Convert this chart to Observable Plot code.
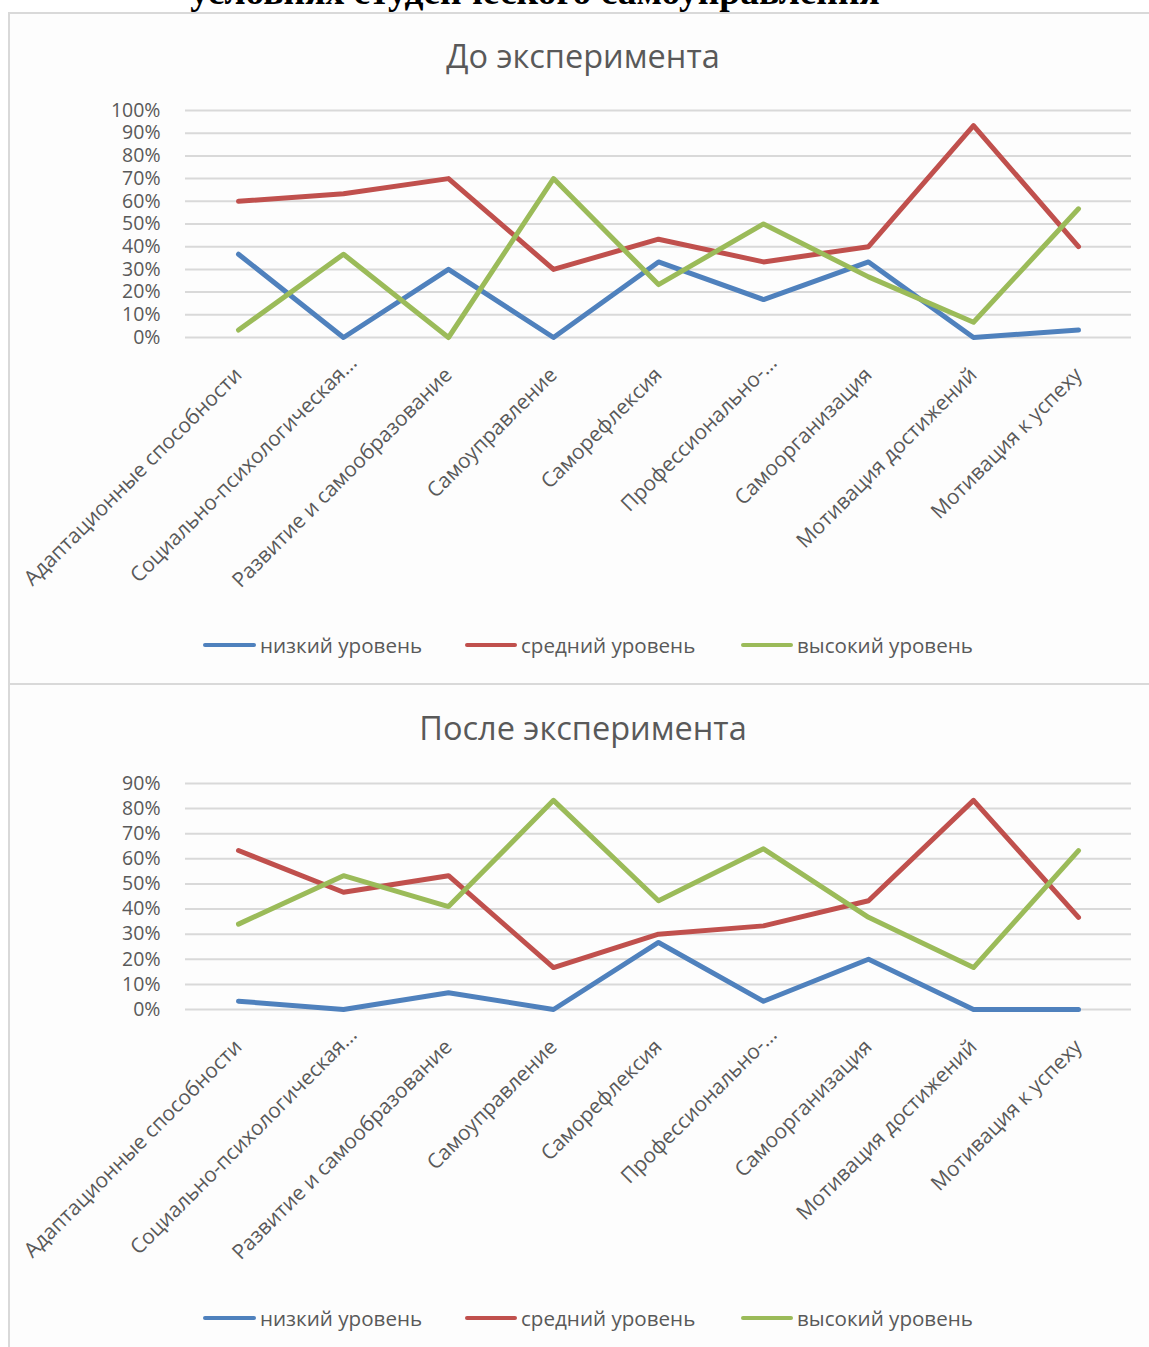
<!DOCTYPE html>
<html><head><meta charset="utf-8">
<script src="https://cdn.jsdelivr.net/npm/d3@7"></script>
<script src="https://cdn.jsdelivr.net/npm/@observablehq/plot@0.6"></script>
<style>
html,body{margin:0;padding:0;background:#fff;}
body{width:1149px;height:1347px;position:relative;overflow:hidden;font-family:"Open Sans",sans-serif;}
.doc-title{position:absolute;left:0;width:1070px;text-align:center;top:-28px;font:bold 37.5px/40px "Liberation Serif",serif;color:#000;white-space:nowrap;}
.panel{position:absolute;left:8px;width:1200px;border:2px solid #d9d9d9;background:#fdfdfd;box-sizing:border-box;}
.ctitle{position:absolute;left:0;width:1166px;text-align:center;font:32.5px/38px "Open Sans",sans-serif;color:#595959;white-space:nowrap;}
.chart{position:absolute;left:0;}
.legend{position:absolute;left:0;width:1149px;height:30px;font:20.6px/30px "Open Sans",sans-serif;color:#595959;}
.legend .sw{position:absolute;top:13px;height:4px;border-radius:2px;}
.legend .lb{position:absolute;top:0;white-space:nowrap;}
</style>
</head><body>
<div class="doc-title">условиях студенческого самоуправления</div>
<div class="panel" style="top:12px;height:673px;"></div>
<div class="panel" style="top:683px;height:700px;"></div>
<div class="ctitle" style="top:37px;">До эксперимента</div>
<div class="ctitle" style="top:709px;">После эксперимента</div>
<div id="c1" class="chart" style="top:90px;"></div>
<div id="c2" class="chart" style="top:763px;"></div>
<div id="l1" class="legend" style="top:630px;"></div>
<div id="l2" class="legend" style="top:1303px;"></div>
<script>
const categories = ["Адаптационные способности","Социально-психологическая...","Развитие и самообразование","Самоуправление","Саморефлексия","Профессионально-...","Самоорганизация","Мотивация достижений","Мотивация к успеху"];
const truncatedLabels = ["Социально-психологическая...","Профессионально-..."];
const seriesNames = ["низкий уровень","средний уровень","высокий уровень"];
const seriesColors = ["#4f81bd","#c0504d","#9bbb59"];

const beforeLow  = [0.367,0,0.30,0,0.333,0.167,0.333,0,0.033];
const beforeMid  = [0.60,0.633,0.70,0.30,0.433,0.333,0.40,0.933,0.40];
const beforeHigh = [0.033,0.367,0,0.70,0.233,0.50,0.267,0.067,0.567];

const afterLow  = [0.033,0,0.067,0,0.267,0.033,0.20,0,0];
const afterMid  = [0.633,0.467,0.533,0.167,0.30,0.333,0.433,0.833,0.367];
const afterHigh = [0.34,0.533,0.41,0.833,0.433,0.64,0.367,0.167,0.633];

const beforeTicks = [0,0.1,0.2,0.3,0.4,0.5,0.6,0.7,0.8,0.9,1.0];
const afterTicks  = [0,0.1,0.2,0.3,0.4,0.5,0.6,0.7,0.8,0.9];

function chart(series, yMax, yTicks, plotH) {
  const rows = [];
  series.forEach((arr, s) => arr.forEach((v, i) => rows.push({cat: categories[i], level: seriesNames[s], value: v})));
  const xAxisStyle = {tickRotate: -45, tickSize: 0, tickPadding: 34, fontSize: 20.8, fill: "#595959", label: null};
  return Plot.plot({
    width: 1149, height: 20 + plotH + 260,
    marginLeft: 185, marginRight: 18, marginTop: 20, marginBottom: 260,
    style: {fontFamily: "Open Sans, sans-serif", fontSize: "20px", color: "#595959", background: "transparent", overflow: "visible"},
    x: {type: "point", domain: categories, padding: 0.5, label: null},
    y: {domain: [0, yMax], label: null},
    color: {domain: seriesNames, range: seriesColors},
    marks: [
      Plot.gridY(yTicks, {stroke: "#d9d9d9", strokeOpacity: 1, strokeWidth: 2}),
      Plot.axisY(yTicks, {tickSize: 0, tickPadding: 25, tickFormat: d => Math.round(d * 100) + "%", fontSize: 19.5, fill: "#595959", label: null}),
      Plot.axisX(categories.filter(c => !truncatedLabels.includes(c)), xAxisStyle),
      Plot.axisX(truncatedLabels, {...xAxisStyle, dx: 10, dy: -12}),
      Plot.line(rows, {x: "cat", y: "value", z: "level", stroke: "level", strokeWidth: 5, strokeLinecap: "round", strokeLinejoin: "round"})
    ]
  });
}

document.getElementById("c1").append(chart([beforeLow, beforeMid, beforeHigh], 1.0, beforeTicks, 227));
document.getElementById("c2").append(chart([afterLow, afterMid, afterHigh], 0.9, afterTicks, 226));

const legendPos = [[203, 260], [465, 521], [741, 797]];
function legend(el) {
  seriesNames.forEach((name, i) => {
    const sw = document.createElement("div");
    sw.className = "sw";
    sw.style.left = legendPos[i][0] + "px";
    sw.style.width = (legendPos[i][1] - 4 - legendPos[i][0]) + "px";
    sw.style.background = seriesColors[i];
    const lb = document.createElement("div");
    lb.className = "lb";
    lb.style.left = legendPos[i][1] + "px";
    lb.textContent = name;
    el.append(sw, lb);
  });
}
legend(document.getElementById("l1"));
legend(document.getElementById("l2"));
</script>
</body></html>
